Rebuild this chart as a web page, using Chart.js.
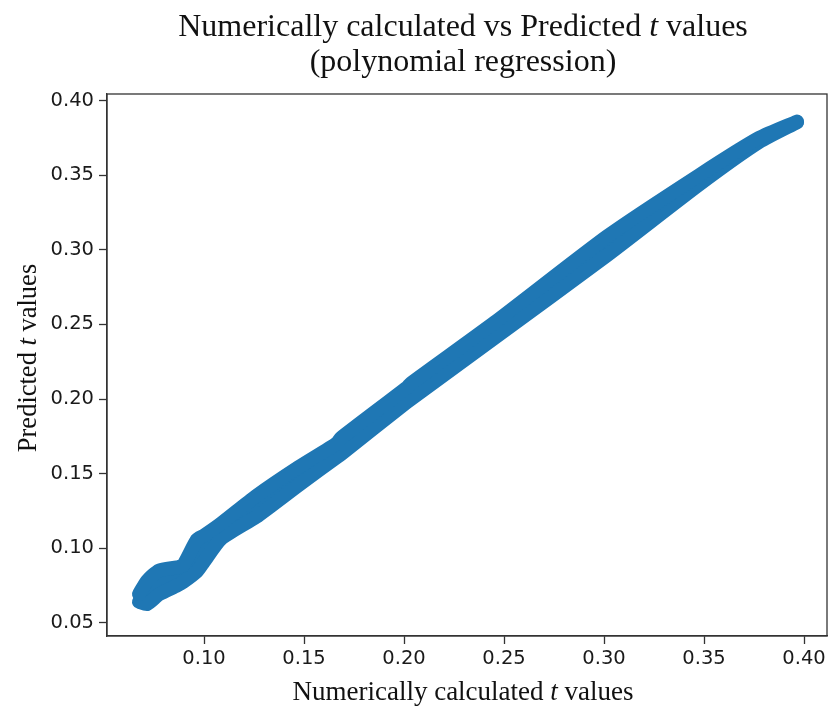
<!DOCTYPE html>
<html>
<head>
<meta charset="utf-8">
<script src="https://cdn.jsdelivr.net/npm/chart.js@4.4.0/dist/chart.umd.min.js"></script>
<style>
  html, body { margin: 0; padding: 0; background: #fff; }
  #wrap { width: 829px; height: 709px; }
</style>
</head>
<body>
<div id="wrap"><canvas id="grafico"></canvas></div>
<script>
// numerically calculated t (x) and the spread of predicted t (y)
const numericT = [0.0675, 0.0715, 0.0775, 0.0865, 0.0895, 0.0965, 0.100, 0.1085, 0.126, 0.1475,
                  0.1665, 0.1685, 0.2015, 0.2035, 0.2455, 0.3015, 0.3475, 0.3775, 0.3965];
const predictedHigh = [0.0692, 0.078, 0.085, 0.0871, 0.0884, 0.1058, 0.1085, 0.1165, 0.1349, 0.1545,
                       0.1704, 0.1739, 0.2077, 0.2105, 0.2515, 0.3090, 0.3500, 0.3750, 0.3860];
const predictedLow = [0.0640, 0.0625, 0.0690, 0.0749, 0.0772, 0.0845, 0.0910, 0.1062, 0.1209, 0.1425,
                      0.161, 0.163, 0.198, 0.200, 0.2411, 0.2963, 0.3437, 0.3722, 0.3855];

const xTicks = [0.10, 0.15, 0.20, 0.25, 0.30, 0.35, 0.40];
const yTicks = [0.05, 0.10, 0.15, 0.20, 0.25, 0.30, 0.35, 0.40];

const azul = "#1f77b4";
const serif = "'Liberation Serif', 'Times New Roman', serif";

function pontos(ys) {
  return numericT.map((x, i) => ({ x: x, y: ys[i] }));
}

// texto com partes em itálico (o "t")
function textoMisto(ctx, partes, x, y, tamanho, angulo) {
  ctx.save();
  ctx.translate(x, y);
  ctx.rotate(angulo || 0);
  ctx.fillStyle = "#111";
  ctx.textBaseline = "alphabetic";
  let total = 0;
  partes.forEach(p => {
    ctx.font = (p[1] ? "italic " : "") + tamanho + "px " + serif;
    total += ctx.measureText(p[0]).width;
  });
  let cx = -total / 2;
  partes.forEach(p => {
    ctx.font = (p[1] ? "italic " : "") + tamanho + "px " + serif;
    ctx.fillText(p[0], cx, 0);
    cx += ctx.measureText(p[0]).width;
  });
  ctx.restore();
}

const moldura = {
  id: "moldura",
  afterDraw(chart) {
    const ctx = chart.ctx;
    const a = chart.chartArea;
    ctx.save();
    ctx.strokeStyle = "#333";
    ctx.lineWidth = 1.3;
    ctx.strokeRect(a.left, a.top, a.right - a.left, a.bottom - a.top);
    ctx.restore();

    const meio = (a.left + a.right) / 2;
    textoMisto(ctx, [["Numerically calculated vs Predicted ", false], ["t", true], [" values", false]], meio - 4, 36, 32);
    textoMisto(ctx, [["(polynomial regression)", false]], meio - 4, 71, 32);
    textoMisto(ctx, [["Numerically calculated ", false], ["t", true], [" values", false]], meio - 4, 700, 27);
    textoMisto(ctx, [["Predicted ", false], ["t", true], [" values", false]], 36, 358, 26.5, -Math.PI / 2);
  }
};

new Chart(document.getElementById("grafico").getContext("2d"), {
  type: "line",
  data: {
    datasets: [
      {
        label: "upper",
        data: pontos(predictedHigh),
        borderColor: azul,
        backgroundColor: azul,
        borderWidth: 14,
        borderCapStyle: "round",
        borderJoinStyle: "round",
        pointRadius: 0,
        tension: 0.2,
        fill: false,
      },
      {
        label: "lower",
        data: pontos(predictedLow),
        borderColor: azul,
        backgroundColor: azul,
        borderWidth: 14,
        borderCapStyle: "round",
        borderJoinStyle: "round",
        pointRadius: 0,
        tension: 0.2,
        fill: "-1",
      },
    ],
  },
  options: {
    responsive: true,
    maintainAspectRatio: false,
    animation: false,
    layout: { padding: { top: 94, right: 2, left: 0, bottom: 0 } },
    plugins: {
      legend: { display: false },
      tooltip: { enabled: false },
    },
    scales: {
      x: {
        type: "linear",
        min: 0.0515,
        max: 0.4115,
        afterFit: s => { s.height = 73; },
        afterBuildTicks: s => { s.ticks = xTicks.map(v => ({ value: v })); },
        ticks: {
          callback: v => v.toFixed(2),
          font: { family: "'DejaVu Sans'", size: 19.5 },
          color: "#1a1a1a",
          padding: 3,
          maxRotation: 0,
        },
        grid: { drawOnChartArea: false, drawTicks: true, tickLength: 8, tickWidth: 1.3, tickColor: "#333" },
        border: { display: true, color: "#333", width: 1.3 },
      },
      y: {
        min: 0.0411,
        max: 0.4045,
        afterFit: s => { s.width = 107; },
        afterBuildTicks: s => { s.ticks = yTicks.map(v => ({ value: v })); },
        ticks: {
          callback: v => v.toFixed(2),
          font: { family: "'DejaVu Sans'", size: 19.5 },
          color: "#1a1a1a",
          padding: 5,
        },
        grid: { drawOnChartArea: false, drawTicks: true, tickLength: 8, tickWidth: 1.3, tickColor: "#333" },
        border: { display: true, color: "#333", width: 1.3 },
      },
    },
  },
  plugins: [moldura],
});
</script>
</body>
</html>
